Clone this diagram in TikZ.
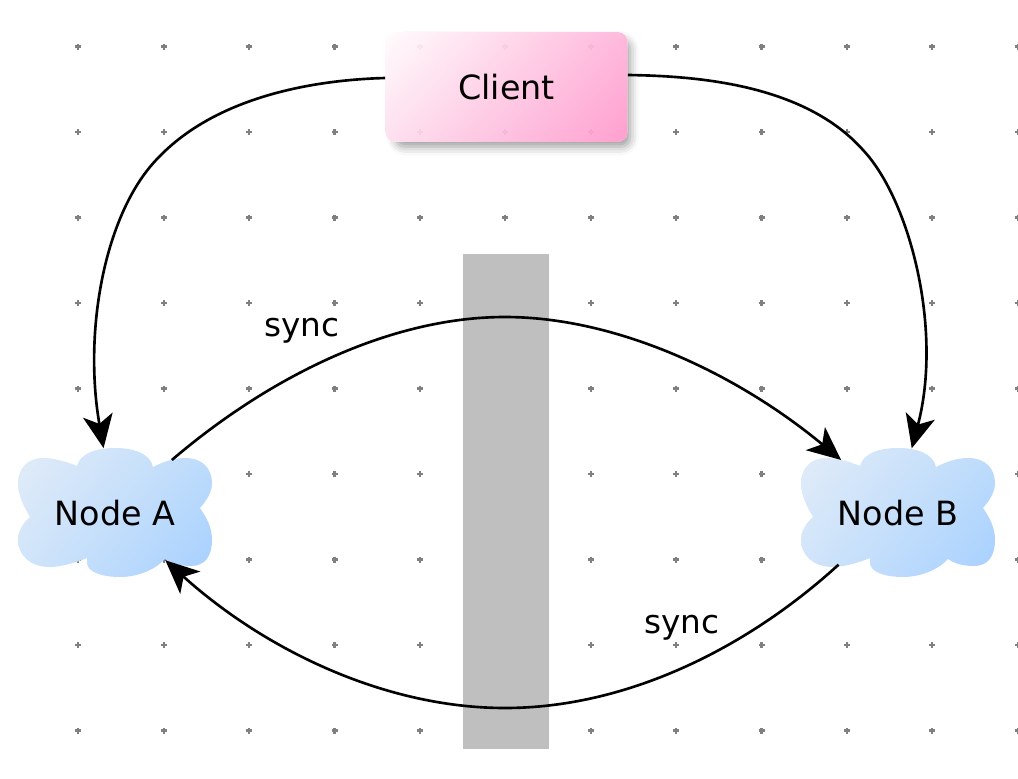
\documentclass[tikz,border=0pt]{standalone}
\usepackage{fontspec}
\setmainfont{DejaVu Sans}
\usetikzlibrary{arrows.meta,shapes.geometric,shadings,shadows.blur}
\definecolor{griddotgray}{HTML}{808080}
\definecolor{wallgray}{HTML}{BFBFBF}
\definecolor{cloudul}{RGB}{226,236,248}
\definecolor{cloudur}{RGB}{190,220,251}
\definecolor{cloudll}{RGB}{208,228,250}
\definecolor{cloudlr}{RGB}{166,208,255}
\definecolor{clientul}{RGB}{255,252,253}
\definecolor{clientur}{RGB}{255,180,218}
\definecolor{clientll}{RGB}{253,222,238}
\definecolor{clientlr}{RGB}{255,153,204}
\tikzset{>={Stealth[length=19pt,width=17pt,inset=5pt]}}
\tikzset{link/.style={->,line width=1.5pt}}
\tikzset{griddot/.style={griddotgray,line width=1.2pt}}
\tikzset{syncnote/.style={font=\fontsize{18.6}{22}\selectfont,inner sep=0pt}}
\tikzset{hostnode/.style={ellipse,minimum width=3.88cm,minimum height=2.6cm,inner sep=0pt,font=\fontsize{19}{23}\selectfont}}
\tikzset{clientbox/.style={rounded corners=0.2cm,minimum width=4.84cm,minimum height=2.2cm,inner sep=0pt}}
\tikzset{cloudshape/.pic={
\shade[upper left=cloudul,upper right=cloudur,lower left=cloudll,lower right=cloudlr]
(-38,-47) .. controls (-35,-60) and (-18,-65) .. (0,-65) .. controls (18,-65) and (35,-60) .. (38,-46)
.. controls (50,-52) and (60,-55) .. (70,-55) .. controls (88,-55) and (97,-44) .. (97,-30)
.. controls (97,-22) and (93,-14) .. (85,-5) .. controls (92,5) and (97,15) .. (97,27)
.. controls (97,43) and (90,53) .. (76,53) .. controls (66,53) and (57,51) .. (50,46)
.. controls (40,57) and (22,64) .. (5,64) .. controls (-15,64) and (-28,58) .. (-28,50) -- (-28,45)
.. controls (-40,50) and (-55,54) .. (-65,54) .. controls (-85,54) and (-97,42) .. (-97,27)
.. controls (-97,18) and (-92,10) .. (-85,4) .. controls (-92,-8) and (-97,-18) .. (-97,-30)
.. controls (-97,-44) and (-88,-55) .. (-72,-55) .. controls (-62,-55) and (-50,-52) .. (-38,-47) -- cycle;
}}
\begin{document}
\begin{tikzpicture}[x=0.02cm,y=-0.02cm]
\useasboundingbox (0,0) rectangle (1018,778);
% shadow goes under the grid
\node[clientbox,fill=white,blur shadow={shadow xshift=0.13cm,shadow yshift=-0.13cm,shadow scale=0.97,shadow blur radius=0.18cm,shadow opacity=40}]
  (clientShadow) at (506.5,87) {};
% grid of dots
\foreach \i in {0,...,11}
  \foreach \j in {0,...,8}
    \draw[griddot] (78.3+\i*85.4-3,46.5+\j*85.5) -- (78.3+\i*85.4+3,46.5+\j*85.5)
      (78.3+\i*85.4,46.5+\j*85.5-3) -- (78.3+\i*85.4,46.5+\j*85.5+3);
\node[fill=wallgray,minimum width=1.72cm,minimum height=9.9cm,inner sep=0pt] (wall) at (506,501.5) {};
\node[clientbox,font=\fontsize{19}{23}\selectfont,fill opacity=0.93,text opacity=1,
  upper left=clientul,upper right=clientur,lower left=clientll,lower right=clientlr]
  (client) at (506.5,87) {Client};
\pic at (115,513) {cloudshape};
\pic at (898,513) {cloudshape};
\node[hostnode] (nodeA) at (115,513) {Node A};
\node[hostnode] (nodeB) at (898,513) {Node B};
\node[syncnote] (syncTop) at (302,330.5) {sync};
\node[syncnote] (syncBottom) at (682,628) {sync};
\draw[link] (client.west |- 0,78) .. controls (310,80) and (215,98) .. (158,158)
  .. controls (105,212) and (83,330) .. (nodeA.100);
\draw[link] (client.east |- 0,75) .. controls (700,76) and (805,85) .. (863,150)
  .. controls (910,200) and (943,330) .. (nodeB.78);
\draw[link] (nodeA.43) .. controls (275,372) and (395,317) .. (505,317)
  .. controls (615,317) and (735,372) .. (nodeB.137);
\draw[link] (nodeB.-139) .. controls (745,650) and (625,708) .. (505,708)
  .. controls (385,708) and (265,650) .. ([xshift=-0.13cm,yshift=0.115cm]nodeA.-43);
\end{tikzpicture}
\end{document}
